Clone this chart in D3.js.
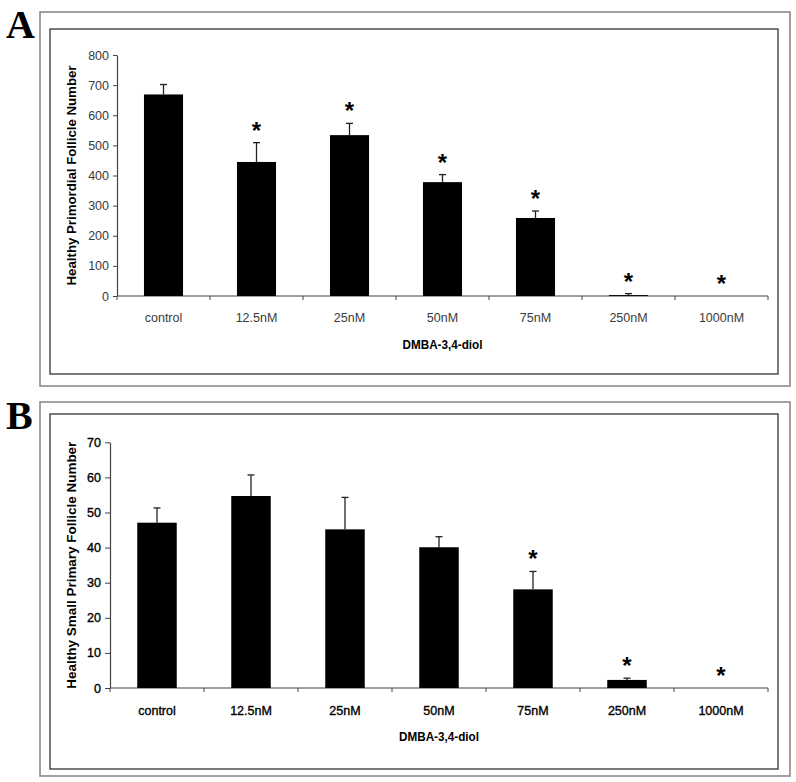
<!DOCTYPE html>
<html><head><meta charset="utf-8">
<script src="https://cdn.jsdelivr.net/npm/d3@7"></script>
<style>html,body{margin:0;padding:0;background:#fff;}svg{display:block;}</style>
</head><body>
<script>
const categories = ["control","12.5nM","25nM","50nM","75nM","250nM","1000nM"];
const valuesA = [669, 445, 534, 378, 259, 3, 0];
const errorsA = [33, 64, 39, 25, 23, 5, 0];
const starsA = [false, true, true, true, true, true, true];
const ticksA = [0,100,200,300,400,500,600,700,800];
const valuesB = [47.1, 54.7, 45.2, 40.1, 28.1, 2.3, 0];
const errorsB = [4.2, 6.0, 9.1, 3.0, 5.1, 0.5, 0];
const starsB = [false, false, false, false, true, true, true];
const ticksB = [0,10,20,30,40,50,60,70];
const xTitle = "DMBA-3,4-diol";
const yTitleA = "Healthy Primordial Follicle Number";
const yTitleB = "Healthy Small Primary Follicle Number";

const W = 796, H = 782;
const svg = d3.select("body").append("svg").attr("width", W).attr("height", H);

function panel(cfg) {
  const g = svg.append("g");
  // boxes
  g.append("rect").attr("x", cfg.outer[0]).attr("y", cfg.outer[1])
    .attr("width", cfg.outer[2]-cfg.outer[0]).attr("height", cfg.outer[3]-cfg.outer[1])
    .attr("fill", "none").attr("stroke", "#8a8a8a").attr("stroke-width", 1.6);
  g.append("rect").attr("x", cfg.inner[0]).attr("y", cfg.inner[1])
    .attr("width", cfg.inner[2]-cfg.inner[0]).attr("height", cfg.inner[3]-cfg.inner[1])
    .attr("fill", "none").attr("stroke", "#333").attr("stroke-width", 1.3);
  // letter
  g.append("text").attr("x", 6).attr("y", cfg.letterY).text(cfg.letter)
    .attr("font-family", "Liberation Serif, Times New Roman, serif").attr("font-weight", "bold")
    .attr("font-size", 40).attr("fill", "#000");

  const x = d3.scaleBand().domain(categories).range([cfg.x0, cfg.x1])
    .paddingInner(0.58).paddingOuter(0.29);
  const y = d3.scaleLinear().domain([0, cfg.ymax]).range([cfg.y0, cfg.y1]);

  // y axis
  const ya = g.append("g").attr("transform", `translate(${cfg.x0},0)`)
    .call(d3.axisLeft(y).tickValues(cfg.ticks).tickSize(cfg.tick).tickPadding(4).tickSizeOuter(0));
  ya.select(".domain").attr("stroke", "#444").attr("stroke-width", 1.2);
  ya.selectAll(".tick line").attr("stroke", "#444");
  ya.selectAll(".tick text").attr("font-family", "Liberation Sans, Arial, sans-serif")
    .attr("font-size", 12.5).attr("fill", cfg.labelColor).attr("stroke", cfg.labelStroke).attr("stroke-width", 0.35);

  // x axis (ticks at band boundaries)
  const xa = g.append("g").attr("transform", `translate(0,${cfg.y0})`);
  xa.append("line").attr("x1", cfg.x0).attr("x2", cfg.x1).attr("y1", 0).attr("y2", 0)
    .attr("stroke", "#444").attr("stroke-width", 1.2);
  const step = x.step();
  const bounds = d3.range(categories.length + 1).map(i => cfg.x0 + i * step);
  xa.selectAll("line.tk").data(bounds).join("line").attr("class", "tk")
    .attr("x1", d => d).attr("x2", d => d).attr("y1", 0).attr("y2", 4).attr("stroke", "#444");
  xa.selectAll("text").data(categories).join("text")
    .attr("x", d => x(d) + x.bandwidth()/2).attr("y", cfg.catDy)
    .attr("text-anchor", "middle").text(d => d)
    .attr("font-family", "Liberation Sans, Arial, sans-serif").attr("font-size", 12.5)
    .attr("fill", cfg.labelColor).attr("stroke", cfg.labelStroke).attr("stroke-width", 0.35);

  // bars
  g.selectAll("rect.bar").data(cfg.values).join("rect").attr("class", "bar")
    .attr("x", (d, i) => x(categories[i])).attr("width", x.bandwidth())
    .attr("y", d => y(d)).attr("height", d => cfg.y0 - y(d)).attr("fill", "#000");

  // error bars
  const eb = g.append("g").attr("stroke", "#222").attr("stroke-width", 1.3);
  cfg.values.forEach((v, i) => {
    if (cfg.errors[i] <= 0) return;
    const cx = x(categories[i]) + x.bandwidth()/2;
    eb.append("line").attr("x1", cx).attr("x2", cx).attr("y1", y(v)).attr("y2", y(v + cfg.errors[i]));
    eb.append("line").attr("x1", cx - 3.5).attr("x2", cx + 3.5)
      .attr("y1", y(v + cfg.errors[i])).attr("y2", y(v + cfg.errors[i]));
  });

  // stars
  cfg.values.forEach((v, i) => {
    if (!cfg.stars[i]) return;
    const cx = x(categories[i]) + x.bandwidth()/2;
    const top = y(v + cfg.errors[i]);
    g.append("text").attr("x", cx).attr("y", top - 16 + 12)
      .attr("text-anchor", "middle").text("*")
      .attr("font-family", "Liberation Sans, Arial, sans-serif").attr("font-weight", "bold")
      .attr("font-size", 24).attr("fill", "#000");
  });

  // titles
  g.append("text").attr("x", (cfg.x0 + cfg.x1)/2).attr("y", cfg.xTitleY)
    .attr("text-anchor", "middle").text(xTitle)
    .attr("font-family", "Liberation Sans, Arial, sans-serif").attr("font-weight", "bold")
    .attr("font-size", 12).attr("textLength", 80).attr("lengthAdjust", "spacingAndGlyphs").attr("fill", "#000");
  g.append("text").attr("transform", `translate(${cfg.yTitleX},${(cfg.y0 + cfg.y1)/2}) rotate(-90)`)
    .attr("text-anchor", "middle").text(cfg.yTitle)
    .attr("font-family", "Liberation Sans, Arial, sans-serif").attr("font-weight", "bold")
    .attr("font-size", 12).attr("textLength", cfg.yTitleLen).attr("lengthAdjust", "spacingAndGlyphs").attr("fill", "#000");
}

panel({
  letter: "A", letterY: 38,
  outer: [40, 12, 790, 386], inner: [50, 29, 778, 374],
  x0: 117, x1: 768, y0: 296, y1: 55, ymax: 800, ticks: ticksA, tick: 4,
  values: valuesA, errors: errorsA, stars: starsA,
  labelColor: "#3a3a3a", labelStroke: "none",
  catDy: 25.5, xTitleY: 349, yTitleX: 76, yTitle: yTitleA, yTitleLen: 220
});
panel({
  letter: "B", letterY: 429,
  outer: [40, 402, 790, 776], inner: [50, 414, 778, 769],
  x0: 110, x1: 768, y0: 688, y1: 442.3, ymax: 70, ticks: ticksB, tick: 5,
  values: valuesB, errors: errorsB, stars: starsB,
  labelColor: "#000", labelStroke: "#000",
  catDy: 27, xTitleY: 741, yTitleX: 76, yTitle: yTitleB, yTitleLen: 247
});
</script>
</body></html>
